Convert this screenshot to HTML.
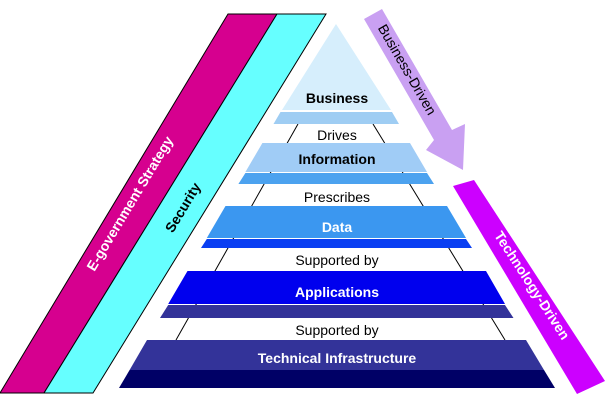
<!DOCTYPE html>
<html><head><meta charset="utf-8"><style>
html,body{margin:0;padding:0;background:#fff;}
svg{display:block;font-family:"Liberation Sans",Arial,sans-serif;}
</style></head><body>
<svg width="606" height="404" viewBox="0 0 606 404">
<rect width="606" height="404" fill="#fff"/>
<polygon points="228,14 277,14 44,393 0,393" fill="#d6008f" stroke="#000" stroke-width="1"/>
<polygon points="277,14 326,14 93,393 44,393" fill="#66ffff" stroke="#000" stroke-width="1"/>
<text transform="translate(134,206) rotate(-59)" text-anchor="middle" font-size="14" font-weight="bold" fill="#fff">E-government Strategy</text>
<text transform="translate(187,210) rotate(-59)" text-anchor="middle" font-size="14" font-weight="bold" fill="#000">Security</text>
<line x1="298" y1="124" x2="176" y2="340" stroke="#000" stroke-width="1"/>
<line x1="373" y1="124" x2="505" y2="340" stroke="#000" stroke-width="1"/>
<polygon points="336,24 391,110 282,110" fill="#d6eefc"/>
<polygon points="280.5,112 392,112 399,124 273.5,124" fill="#9fcdf3"/>
<polygon points="262.4,143 410,143 427,172 245.4,172" fill="#a0ccf6"/>
<polygon points="245.4,173 427,173 434,184 238.4,184" fill="#4ca2ef"/>
<polygon points="225.5,206 447,206 466,238 206.8,238" fill="#3b97f0"/>
<polygon points="206.8,239 466,239 472,248 201,248" fill="#0a3ff2"/>
<polygon points="187.5,271 486,271 505,304 168.2,304" fill="#0000ee"/>
<polygon points="168.2,305 505,305 513.5,318 160,318" fill="#333399"/>
<polygon points="147,340 526,340 544,370 129.6,370" fill="#333399"/>
<polygon points="129.6,370 544,370 555,388 119,388" fill="#000066"/>
<g font-size="14" text-anchor="middle">
<text x="337" y="103" font-weight="bold" fill="#000">Business</text>
<text x="337" y="140" fill="#000">Drives</text>
<text x="337" y="164" font-weight="bold" fill="#000">Information</text>
<text x="337" y="202" fill="#000">Prescribes</text>
<text x="337" y="232" font-weight="bold" fill="#fff">Data</text>
<text x="337" y="265" fill="#000">Supported by</text>
<text x="337" y="297" font-weight="bold" fill="#fff">Applications</text>
<text x="337" y="335" fill="#000">Supported by</text>
<text x="337" y="363" font-weight="bold" fill="#fff">Technical Infrastructure</text>
</g>
<polygon points="364,19 382,9 452,130 465,124 463,170 426,150 434,140" fill="#c9a0f2"/>
<text transform="translate(403,72) rotate(60)" text-anchor="middle" font-size="14" fill="#000">Business-Driven</text>
<polygon points="453,186 474,180 605,381 577,394" fill="#cc00ff"/>
<text transform="translate(528,288) rotate(57)" text-anchor="middle" font-size="14" font-weight="bold" fill="#fff">Technology-Driven</text>
</svg>
</body></html>
